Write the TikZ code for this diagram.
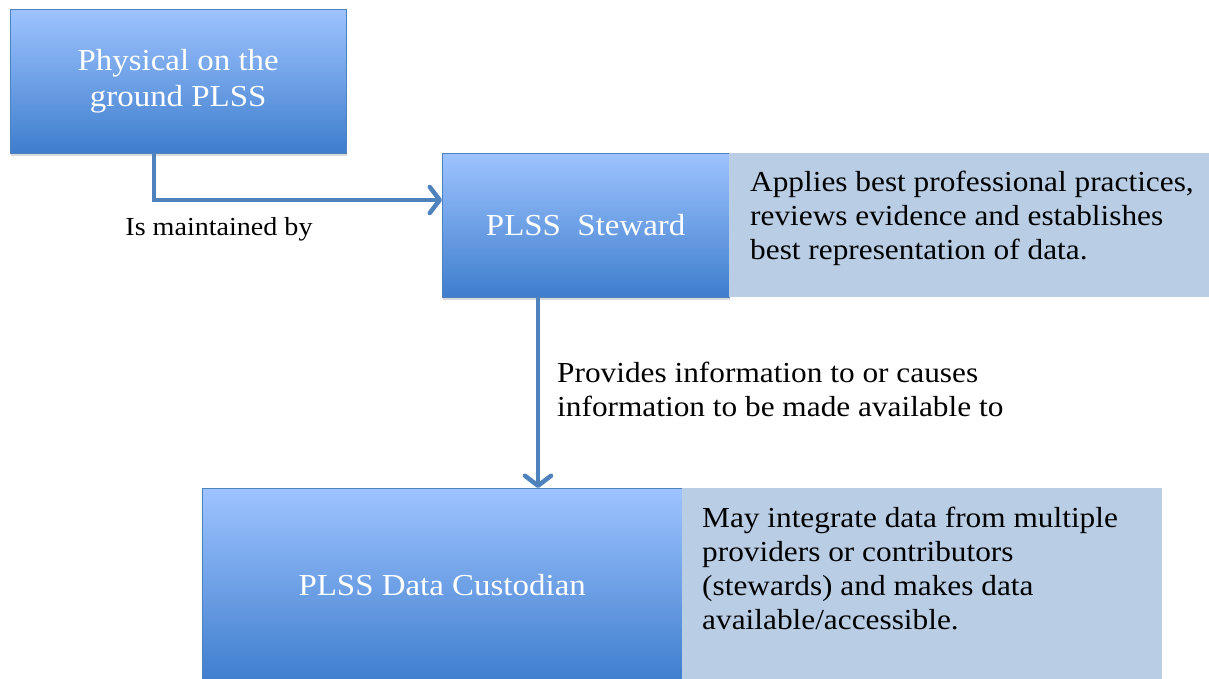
\documentclass[tikz,border=0pt]{standalone}
\usepackage{fontspec}
\setmainfont{Liberation Serif}[FakeStretch=1.08]
\usepackage{tikz}
\usepackage{xcolor}
\usetikzlibrary{positioning,shadows,arrows.meta}
\definecolor{boxtop}{RGB}{158,195,255}
\definecolor{boxbottom}{RGB}{62,126,205}
\definecolor{boxline}{RGB}{79,129,189}
\definecolor{notefill}{RGB}{185,205,229}
\tikzset{
    blue-box/.style = {draw=boxline, thin, top color=boxtop, bottom color=boxbottom, rectangle, anchor=north west, text=white, align=center, font=\fontsize{30.5}{36}\selectfont, drop shadow={shadow xshift=1pt, shadow yshift=-3pt, opacity=0.3}},
    note-box/.style = {fill=notefill, rectangle, anchor=north west, inner sep=0pt},
    note-text/.style = {inner sep=0pt, align=left, font=\fontsize{29}{34}\selectfont},
    link/.style = {draw=boxline, line width=4.5pt, -{Straight Barb[length=10pt, width=26pt, round]}},
}

\begin{document}
\begin{tikzpicture}[x=1pt, y=-1pt]
\useasboundingbox (0,0) rectangle (1209,679);
\node [blue-box, minimum width=336pt, minimum height=144pt] (ground) at (10,9) {Physical on the\\ground PLSS};
\node [blue-box, minimum width=287pt, minimum height=144pt] (steward) at (442,153) {PLSS~~Steward};
\node [blue-box, minimum width=480pt, minimum height=194pt] (custodian) at (202,488) {PLSS Data Custodian};
\node [note-box, minimum width=480pt, minimum height=144pt] (steward-note) at (729,153) {};
\node [note-box, minimum width=480pt, minimum height=194pt] (custodian-note) at (682,488) {};
\node [note-text, below right=18pt and 21pt] (steward-text) at (steward-note.north west) {Applies best professional practices,\\reviews evidence and establishes\\best representation of data.};
\node [note-text, below right=19pt and 20pt] (custodian-text) at (custodian-note.north west) {May integrate data from multiple\\providers or contributors\\(stewards) and makes data\\available/accessible.};
% connectors
\coordinate (bend) at (154,200);
\coordinate (drop) at (538,0);
\draw [link] (bend |- ground.south) -- (bend) -- (bend -| steward.west);
\draw [link] (drop |- steward.south) -- (drop |- custodian.north);
\node [font=\fontsize{26}{30}\selectfont] (maintained) at (219,229) {Is maintained by};
\node [note-text, anchor=north west] (provides) at (557,362) {Provides information to or causes\\information to be made available to};
\end{tikzpicture}
\end{document}
